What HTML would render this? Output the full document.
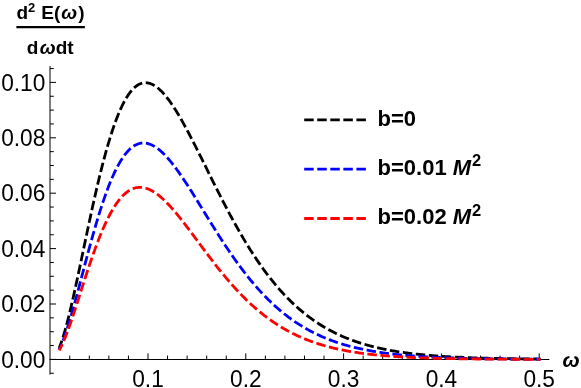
<!DOCTYPE html>
<html><head><meta charset="utf-8"><title>plot</title>
<style>
html,body{margin:0;padding:0;background:#fff;}
body{width:581px;height:388px;overflow:hidden;position:relative;font-family:"Liberation Sans",sans-serif;}
svg{position:absolute;left:0;top:0;will-change:transform;}
text{font-family:"Liberation Sans",sans-serif;}
</style></head><body>
<svg width="581" height="388" viewBox="0 0 581 388">
<g stroke="#000000" stroke-width="1" fill="none">
<line x1="50.00" y1="66.10" x2="50.00" y2="374.60"/>
<line x1="49.50" y1="359.50" x2="549.30" y2="359.50"/>
<line x1="50.00" y1="373.25" x2="53.80" y2="373.25"/>
<line x1="50.00" y1="359.40" x2="56.00" y2="359.40"/>
<line x1="50.00" y1="345.55" x2="53.80" y2="345.55"/>
<line x1="50.00" y1="331.70" x2="53.80" y2="331.70"/>
<line x1="50.00" y1="317.85" x2="53.80" y2="317.85"/>
<line x1="50.00" y1="304.00" x2="56.00" y2="304.00"/>
<line x1="50.00" y1="290.15" x2="53.80" y2="290.15"/>
<line x1="50.00" y1="276.30" x2="53.80" y2="276.30"/>
<line x1="50.00" y1="262.45" x2="53.80" y2="262.45"/>
<line x1="50.00" y1="248.60" x2="56.00" y2="248.60"/>
<line x1="50.00" y1="234.75" x2="53.80" y2="234.75"/>
<line x1="50.00" y1="220.90" x2="53.80" y2="220.90"/>
<line x1="50.00" y1="207.05" x2="53.80" y2="207.05"/>
<line x1="50.00" y1="193.20" x2="56.00" y2="193.20"/>
<line x1="50.00" y1="179.35" x2="53.80" y2="179.35"/>
<line x1="50.00" y1="165.50" x2="53.80" y2="165.50"/>
<line x1="50.00" y1="151.65" x2="53.80" y2="151.65"/>
<line x1="50.00" y1="137.80" x2="56.00" y2="137.80"/>
<line x1="50.00" y1="123.95" x2="53.80" y2="123.95"/>
<line x1="50.00" y1="110.10" x2="53.80" y2="110.10"/>
<line x1="50.00" y1="96.25" x2="53.80" y2="96.25"/>
<line x1="50.00" y1="82.40" x2="56.00" y2="82.40"/>
<line x1="50.00" y1="68.55" x2="53.80" y2="68.55"/>
<line x1="69.76" y1="359.40" x2="69.76" y2="355.60"/>
<line x1="89.32" y1="359.40" x2="89.32" y2="355.60"/>
<line x1="108.88" y1="359.40" x2="108.88" y2="355.60"/>
<line x1="128.44" y1="359.40" x2="128.44" y2="355.60"/>
<line x1="148.00" y1="359.40" x2="148.00" y2="353.40"/>
<line x1="167.56" y1="359.40" x2="167.56" y2="355.60"/>
<line x1="187.12" y1="359.40" x2="187.12" y2="355.60"/>
<line x1="206.68" y1="359.40" x2="206.68" y2="355.60"/>
<line x1="226.24" y1="359.40" x2="226.24" y2="355.60"/>
<line x1="245.80" y1="359.40" x2="245.80" y2="353.40"/>
<line x1="265.36" y1="359.40" x2="265.36" y2="355.60"/>
<line x1="284.92" y1="359.40" x2="284.92" y2="355.60"/>
<line x1="304.48" y1="359.40" x2="304.48" y2="355.60"/>
<line x1="324.04" y1="359.40" x2="324.04" y2="355.60"/>
<line x1="343.60" y1="359.40" x2="343.60" y2="353.40"/>
<line x1="363.16" y1="359.40" x2="363.16" y2="355.60"/>
<line x1="382.72" y1="359.40" x2="382.72" y2="355.60"/>
<line x1="402.28" y1="359.40" x2="402.28" y2="355.60"/>
<line x1="421.84" y1="359.40" x2="421.84" y2="355.60"/>
<line x1="441.40" y1="359.40" x2="441.40" y2="353.40"/>
<line x1="460.96" y1="359.40" x2="460.96" y2="355.60"/>
<line x1="480.52" y1="359.40" x2="480.52" y2="355.60"/>
<line x1="500.08" y1="359.40" x2="500.08" y2="355.60"/>
<line x1="519.64" y1="359.40" x2="519.64" y2="355.60"/>
<line x1="539.20" y1="359.40" x2="539.20" y2="353.40"/>
</g>
<path d="M59.20 347.94 L60.40 344.87 L61.60 341.50 L62.81 337.85 L64.01 333.94 L65.21 329.79 L66.42 325.42 L67.62 320.85 L68.83 316.10 L70.03 311.18 L71.23 306.10 L72.44 300.90 L73.64 295.58 L74.84 290.15 L76.05 284.64 L77.25 279.05 L78.45 273.41 L79.66 267.72 L80.86 261.99 L82.06 256.24 L83.27 250.49 L84.47 244.73 L85.67 238.99 L86.88 233.27 L88.08 227.58 L89.28 221.93 L90.49 216.33 L91.69 210.79 L92.89 205.31 L94.10 199.90 L95.30 194.58 L96.50 189.34 L97.71 184.19 L98.91 179.14 L100.11 174.19 L101.32 169.35 L102.52 164.62 L103.72 160.01 L104.93 155.52 L106.13 151.14 L107.33 146.90 L108.54 142.78 L109.74 138.80 L110.95 134.95 L112.15 131.23 L113.35 127.66 L114.56 124.22 L115.76 120.91 L116.96 117.75 L118.17 114.73 L119.37 111.85 L120.57 109.12 L121.78 106.52 L122.98 104.06 L124.18 101.75 L125.39 99.57 L126.59 97.54 L127.79 95.64 L129.00 93.88 L130.20 92.25 L131.40 90.76 L132.61 89.40 L133.81 88.18 L135.01 87.08 L136.22 86.11 L137.42 85.27 L138.62 84.55 L139.83 83.95 L141.03 83.48 L142.23 83.12 L143.44 82.87 L144.64 82.74 L145.84 82.72 L147.05 82.80 L148.25 83.00 L149.45 83.29 L150.66 83.69 L151.86 84.18 L153.07 84.77 L154.27 85.45 L155.47 86.22 L156.68 87.08 L157.88 88.02 L159.08 89.05 L160.29 90.16 L161.49 91.34 L162.69 92.59 L163.90 93.92 L165.10 95.32 L166.30 96.78 L167.51 98.31 L168.71 99.90 L169.91 101.55 L171.12 103.26 L172.32 105.01 L173.52 106.83 L174.73 108.69 L175.93 110.59 L177.13 112.54 L178.34 114.54 L179.54 116.57 L180.74 118.64 L181.95 120.75 L183.15 122.89 L184.35 125.07 L185.56 127.27 L186.76 129.50 L187.96 131.75 L189.17 134.03 L190.37 136.33 L191.57 138.65 L192.78 140.99 L193.98 143.35 L195.19 145.72 L196.39 148.10 L197.59 150.49 L198.80 152.90 L200.00 155.31 L201.20 157.73 L202.41 160.16 L203.61 162.58 L204.81 165.02 L206.02 167.45 L207.22 169.88 L208.42 172.32 L209.63 174.75 L210.83 177.17 L212.03 179.60 L213.24 182.01 L214.44 184.43 L215.64 186.83 L216.85 189.22 L218.05 191.61 L219.25 193.99 L220.46 196.35 L221.66 198.70 L222.86 201.04 L224.07 203.37 L225.27 205.69 L226.47 207.98 L227.68 210.27 L228.88 212.54 L230.08 214.79 L231.29 217.02 L232.49 219.24 L233.69 221.44 L234.90 223.62 L236.10 225.78 L237.31 227.92 L238.51 230.05 L239.71 232.15 L240.92 234.24 L242.12 236.30 L243.32 238.34 L244.53 240.36 L245.73 242.36 L246.93 244.34 L248.14 246.30 L249.34 248.23 L250.54 250.14 L251.75 252.04 L252.95 253.90 L254.15 255.75 L255.36 257.57 L256.56 259.38 L257.76 261.15 L258.97 262.91 L260.17 264.64 L261.37 266.36 L262.58 268.04 L263.78 269.71 L264.98 271.35 L266.19 272.97 L267.39 274.57 L268.59 276.15 L269.80 277.70 L271.00 279.23 L272.20 280.74 L273.41 282.23 L274.61 283.69 L275.81 285.14 L277.02 286.56 L278.22 287.96 L279.43 289.34 L280.63 290.70 L281.83 292.03 L283.04 293.35 L284.24 294.64 L285.44 295.92 L286.65 297.17 L287.85 298.40 L289.05 299.61 L290.26 300.81 L291.46 301.98 L292.66 303.13 L293.87 304.27 L295.07 305.38 L296.27 306.48 L297.48 307.56 L298.68 308.62 L299.88 309.66 L301.09 310.68 L302.29 311.68 L303.49 312.67 L304.70 313.64 L305.90 314.59 L307.10 315.52 L308.31 316.44 L309.51 317.34 L310.71 318.23 L311.92 319.10 L313.12 319.95 L314.32 320.79 L315.53 321.61 L316.73 322.41 L317.93 323.20 L319.14 323.98 L320.34 324.74 L321.55 325.49 L322.75 326.22 L323.95 326.94 L325.16 327.64 L326.36 328.33 L327.56 329.01 L328.77 329.68 L329.97 330.33 L331.17 330.97 L332.38 331.59 L333.58 332.21 L334.78 332.81 L335.99 333.40 L337.19 333.97 L338.39 334.54 L339.60 335.09 L340.80 335.64 L342.00 336.17 L343.21 336.69 L344.41 337.20 L345.61 337.70 L346.82 338.19 L348.02 338.67 L349.22 339.14 L350.43 339.60 L351.63 340.05 L352.83 340.49 L354.04 340.93 L355.24 341.35 L356.44 341.76 L357.65 342.17 L358.85 342.56 L360.05 342.95 L361.26 343.33 L362.46 343.70 L363.67 344.07 L364.87 344.42 L366.07 344.77 L367.28 345.11 L368.48 345.45 L369.68 345.77 L370.89 346.09 L372.09 346.40 L373.29 346.71 L374.50 347.01 L375.70 347.30 L376.90 347.59 L378.11 347.86 L379.31 348.14 L380.51 348.40 L381.72 348.67 L382.92 348.92 L384.12 349.17 L385.33 349.41 L386.53 349.65 L387.73 349.89 L388.94 350.11 L390.14 350.34 L391.34 350.55 L392.55 350.77 L393.75 350.98 L394.95 351.18 L396.16 351.38 L397.36 351.57 L398.56 351.76 L399.77 351.95 L400.97 352.13 L402.17 352.30 L403.38 352.48 L404.58 352.65 L405.79 352.81 L406.99 352.97 L408.19 353.13 L409.40 353.28 L410.60 353.43 L411.80 353.58 L413.01 353.72 L414.21 353.86 L415.41 354.00 L416.62 354.13 L417.82 354.26 L419.02 354.39 L420.23 354.51 L421.43 354.63 L422.63 354.75 L423.84 354.87 L425.04 354.98 L426.24 355.09 L427.45 355.20 L428.65 355.30 L429.85 355.41 L431.06 355.51 L432.26 355.60 L433.46 355.70 L434.67 355.79 L435.87 355.88 L437.07 355.97 L438.28 356.06 L439.48 356.14 L440.68 356.22 L441.89 356.30 L443.09 356.38 L444.29 356.46 L445.50 356.53 L446.70 356.61 L447.91 356.68 L449.11 356.75 L450.31 356.81 L451.52 356.88 L452.72 356.94 L453.92 357.01 L455.13 357.07 L456.33 357.13 L457.53 357.18 L458.74 357.24 L459.94 357.30 L461.14 357.35 L462.35 357.40 L463.55 357.45 L464.75 357.50 L465.96 357.55 L467.16 357.60 L468.36 357.65 L469.57 357.69 L470.77 357.74 L471.97 357.78 L473.18 357.82 L474.38 357.86 L475.58 357.90 L476.79 357.94 L477.99 357.98 L479.19 358.02 L480.40 358.05 L481.60 358.09 L482.80 358.12 L484.01 358.15 L485.21 358.19 L486.41 358.22 L487.62 358.25 L488.82 358.28 L490.03 358.31 L491.23 358.34 L492.43 358.36 L493.64 358.39 L494.84 358.42 L496.04 358.44 L497.25 358.47 L498.45 358.49 L499.65 358.52 L500.86 358.54 L502.06 358.56 L503.26 358.58 L504.47 358.61 L505.67 358.63 L506.87 358.65 L508.08 358.67 L509.28 358.69 L510.48 358.71 L511.69 358.72 L512.89 358.74 L514.09 358.76 L515.30 358.78 L516.50 358.79 L517.70 358.81 L518.91 358.82 L520.11 358.84 L521.31 358.86 L522.52 358.87 L523.72 358.88 L524.92 358.90 L526.13 358.91 L527.33 358.92 L528.53 358.94 L529.74 358.95 L530.94 358.96 L532.15 358.97 L533.35 358.98 L534.55 359.00 L535.76 359.01 L536.96 359.02 L538.16 359.03 L539.37 359.04 L540.57 359.05" fill="none" stroke="#000000" stroke-width="2.8" stroke-dasharray="9.5 3.55" stroke-dashoffset="1.8" stroke-linejoin="round"/>
<path d="M59.20 349.59 L60.40 347.03 L61.60 344.24 L62.81 341.22 L64.01 338.00 L65.21 334.60 L66.42 331.03 L67.62 327.30 L68.83 323.44 L70.03 319.44 L71.23 315.34 L72.44 311.14 L73.64 306.85 L74.84 302.48 L76.05 298.06 L77.25 293.58 L78.45 289.07 L79.66 284.52 L80.86 279.96 L82.06 275.38 L83.27 270.81 L84.47 266.24 L85.67 261.69 L86.88 257.17 L88.08 252.67 L89.28 248.21 L90.49 243.80 L91.69 239.45 L92.89 235.14 L94.10 230.91 L95.30 226.74 L96.50 222.64 L97.71 218.62 L98.91 214.69 L100.11 210.84 L101.32 207.08 L102.52 203.41 L103.72 199.84 L104.93 196.37 L106.13 193.00 L107.33 189.74 L108.54 186.58 L109.74 183.53 L110.95 180.59 L112.15 177.75 L113.35 175.03 L114.56 172.43 L115.76 169.93 L116.96 167.55 L118.17 165.29 L119.37 163.13 L120.57 161.09 L121.78 159.17 L122.98 157.36 L124.18 155.66 L125.39 154.07 L126.59 152.60 L127.79 151.24 L129.00 149.98 L130.20 148.84 L131.40 147.80 L132.61 146.87 L133.81 146.04 L135.01 145.32 L136.22 144.70 L137.42 144.17 L138.62 143.75 L139.83 143.42 L141.03 143.19 L142.23 143.05 L143.44 143.00 L144.64 143.04 L145.84 143.17 L147.05 143.38 L148.25 143.67 L149.45 144.04 L150.66 144.50 L151.86 145.03 L153.07 145.63 L154.27 146.30 L155.47 147.05 L156.68 147.86 L157.88 148.74 L159.08 149.68 L160.29 150.69 L161.49 151.75 L162.69 152.87 L163.90 154.04 L165.10 155.27 L166.30 156.54 L167.51 157.87 L168.71 159.24 L169.91 160.66 L171.12 162.12 L172.32 163.62 L173.52 165.15 L174.73 166.73 L175.93 168.34 L177.13 169.98 L178.34 171.65 L179.54 173.35 L180.74 175.08 L181.95 176.84 L183.15 178.62 L184.35 180.42 L185.56 182.24 L186.76 184.08 L187.96 185.94 L189.17 187.81 L190.37 189.70 L191.57 191.60 L192.78 193.51 L193.98 195.44 L195.19 197.37 L196.39 199.31 L197.59 201.26 L198.80 203.21 L200.00 205.16 L201.20 207.12 L202.41 209.08 L203.61 211.04 L204.81 213.00 L206.02 214.96 L207.22 216.92 L208.42 218.87 L209.63 220.82 L210.83 222.76 L212.03 224.70 L213.24 226.63 L214.44 228.55 L215.64 230.47 L216.85 232.37 L218.05 234.27 L219.25 236.15 L220.46 238.03 L221.66 239.89 L222.86 241.74 L224.07 243.58 L225.27 245.41 L226.47 247.22 L227.68 249.01 L228.88 250.80 L230.08 252.57 L231.29 254.32 L232.49 256.06 L233.69 257.78 L234.90 259.48 L236.10 261.17 L237.31 262.84 L238.51 264.50 L239.71 266.13 L240.92 267.75 L242.12 269.36 L243.32 270.94 L244.53 272.51 L245.73 274.05 L246.93 275.58 L248.14 277.09 L249.34 278.59 L250.54 280.06 L251.75 281.51 L252.95 282.95 L254.15 284.37 L255.36 285.77 L256.56 287.15 L257.76 288.51 L258.97 289.85 L260.17 291.17 L261.37 292.48 L262.58 293.76 L263.78 295.03 L264.98 296.28 L266.19 297.51 L267.39 298.72 L268.59 299.92 L269.80 301.09 L271.00 302.25 L272.20 303.39 L273.41 304.51 L274.61 305.61 L275.81 306.70 L277.02 307.77 L278.22 308.82 L279.43 309.85 L280.63 310.86 L281.83 311.86 L283.04 312.85 L284.24 313.81 L285.44 314.76 L286.65 315.69 L287.85 316.61 L289.05 317.51 L290.26 318.39 L291.46 319.26 L292.66 320.12 L293.87 320.95 L295.07 321.78 L296.27 322.59 L297.48 323.38 L298.68 324.16 L299.88 324.92 L301.09 325.67 L302.29 326.41 L303.49 327.13 L304.70 327.84 L305.90 328.53 L307.10 329.21 L308.31 329.88 L309.51 330.54 L310.71 331.18 L311.92 331.81 L313.12 332.43 L314.32 333.03 L315.53 333.63 L316.73 334.21 L317.93 334.78 L319.14 335.34 L320.34 335.88 L321.55 336.42 L322.75 336.94 L323.95 337.46 L325.16 337.96 L326.36 338.46 L327.56 338.94 L328.77 339.41 L329.97 339.88 L331.17 340.33 L332.38 340.78 L333.58 341.21 L334.78 341.64 L335.99 342.05 L337.19 342.46 L338.39 342.86 L339.60 343.25 L340.80 343.63 L342.00 344.01 L343.21 344.37 L344.41 344.73 L345.61 345.08 L346.82 345.42 L348.02 345.76 L349.22 346.09 L350.43 346.41 L351.63 346.72 L352.83 347.02 L354.04 347.32 L355.24 347.62 L356.44 347.90 L357.65 348.18 L358.85 348.46 L360.05 348.72 L361.26 348.98 L362.46 349.24 L363.67 349.49 L364.87 349.73 L366.07 349.97 L367.28 350.20 L368.48 350.43 L369.68 350.65 L370.89 350.87 L372.09 351.08 L373.29 351.29 L374.50 351.49 L375.70 351.69 L376.90 351.88 L378.11 352.07 L379.31 352.25 L380.51 352.43 L381.72 352.61 L382.92 352.78 L384.12 352.95 L385.33 353.11 L386.53 353.27 L387.73 353.42 L388.94 353.58 L390.14 353.72 L391.34 353.87 L392.55 354.01 L393.75 354.15 L394.95 354.28 L396.16 354.41 L397.36 354.54 L398.56 354.67 L399.77 354.79 L400.97 354.91 L402.17 355.02 L403.38 355.13 L404.58 355.24 L405.79 355.35 L406.99 355.46 L408.19 355.56 L409.40 355.66 L410.60 355.76 L411.80 355.85 L413.01 355.94 L414.21 356.03 L415.41 356.12 L416.62 356.21 L417.82 356.29 L419.02 356.37 L420.23 356.45 L421.43 356.53 L422.63 356.61 L423.84 356.68 L425.04 356.75 L426.24 356.82 L427.45 356.89 L428.65 356.96 L429.85 357.02 L431.06 357.08 L432.26 357.15 L433.46 357.21 L434.67 357.26 L435.87 357.32 L437.07 357.38 L438.28 357.43 L439.48 357.48 L440.68 357.53 L441.89 357.58 L443.09 357.63 L444.29 357.68 L445.50 357.73 L446.70 357.77 L447.91 357.82 L449.11 357.86 L450.31 357.90 L451.52 357.94 L452.72 357.98 L453.92 358.02 L455.13 358.06 L456.33 358.09 L457.53 358.13 L458.74 358.16 L459.94 358.20 L461.14 358.23 L462.35 358.26 L463.55 358.29 L464.75 358.32 L465.96 358.35 L467.16 358.38 L468.36 358.41 L469.57 358.44 L470.77 358.46 L471.97 358.49 L473.18 358.51 L474.38 358.54 L475.58 358.56 L476.79 358.58 L477.99 358.61 L479.19 358.63 L480.40 358.65 L481.60 358.67 L482.80 358.69 L484.01 358.71 L485.21 358.73 L486.41 358.75 L487.62 358.77 L488.82 358.78 L490.03 358.80 L491.23 358.82 L492.43 358.83 L493.64 358.85 L494.84 358.86 L496.04 358.88 L497.25 358.89 L498.45 358.91 L499.65 358.92 L500.86 358.94 L502.06 358.95 L503.26 358.96 L504.47 358.97 L505.67 358.99 L506.87 359.00 L508.08 359.01 L509.28 359.02 L510.48 359.03 L511.69 359.04 L512.89 359.05 L514.09 359.06 L515.30 359.07 L516.50 359.08 L517.70 359.09 L518.91 359.10 L520.11 359.11 L521.31 359.11 L522.52 359.12 L523.72 359.13 L524.92 359.14 L526.13 359.15 L527.33 359.15 L528.53 359.16 L529.74 359.17 L530.94 359.17 L532.15 359.18 L533.35 359.19 L534.55 359.19 L535.76 359.20 L536.96 359.20 L538.16 359.21 L539.37 359.21 L540.57 359.22" fill="none" stroke="#0000ff" stroke-width="2.8" stroke-dasharray="9.5 3.55" stroke-dashoffset="3.3" stroke-linejoin="round"/>
<path d="M59.20 350.44 L60.40 348.18 L61.60 345.72 L62.81 343.09 L64.01 340.30 L65.21 337.36 L66.42 334.29 L67.62 331.10 L68.83 327.80 L70.03 324.41 L71.23 320.94 L72.44 317.39 L73.64 313.79 L74.84 310.13 L76.05 306.44 L77.25 302.71 L78.45 298.96 L79.66 295.20 L80.86 291.44 L82.06 287.68 L83.27 283.93 L84.47 280.19 L85.67 276.48 L86.88 272.80 L88.08 269.16 L89.28 265.56 L90.49 262.00 L91.69 258.50 L92.89 255.06 L94.10 251.67 L95.30 248.36 L96.50 245.11 L97.71 241.93 L98.91 238.83 L100.11 235.81 L101.32 232.87 L102.52 230.01 L103.72 227.24 L104.93 224.56 L106.13 221.96 L107.33 219.46 L108.54 217.05 L109.74 214.74 L110.95 212.51 L112.15 210.39 L113.35 208.36 L114.56 206.43 L115.76 204.59 L116.96 202.85 L118.17 201.21 L119.37 199.66 L120.57 198.21 L121.78 196.85 L122.98 195.59 L124.18 194.42 L125.39 193.35 L126.59 192.37 L127.79 191.48 L129.00 190.69 L130.20 189.98 L131.40 189.36 L132.61 188.82 L133.81 188.37 L135.01 188.01 L136.22 187.72 L137.42 187.52 L138.62 187.40 L139.83 187.35 L141.03 187.38 L142.23 187.49 L143.44 187.67 L144.64 187.91 L145.84 188.23 L147.05 188.61 L148.25 189.06 L149.45 189.57 L150.66 190.14 L151.86 190.77 L153.07 191.45 L154.27 192.20 L155.47 192.99 L156.68 193.84 L157.88 194.74 L159.08 195.68 L160.29 196.68 L161.49 197.71 L162.69 198.79 L163.90 199.91 L165.10 201.07 L166.30 202.26 L167.51 203.49 L168.71 204.75 L169.91 206.05 L171.12 207.37 L172.32 208.73 L173.52 210.11 L174.73 211.51 L175.93 212.94 L177.13 214.39 L178.34 215.86 L179.54 217.35 L180.74 218.86 L181.95 220.39 L183.15 221.93 L184.35 223.48 L185.56 225.04 L186.76 226.62 L187.96 228.21 L189.17 229.80 L190.37 231.40 L191.57 233.01 L192.78 234.62 L193.98 236.24 L195.19 237.86 L196.39 239.48 L197.59 241.10 L198.80 242.73 L200.00 244.35 L201.20 245.97 L202.41 247.59 L203.61 249.20 L204.81 250.81 L206.02 252.42 L207.22 254.01 L208.42 255.61 L209.63 257.19 L210.83 258.77 L212.03 260.34 L213.24 261.90 L214.44 263.45 L215.64 264.99 L216.85 266.52 L218.05 268.04 L219.25 269.55 L220.46 271.05 L221.66 272.53 L222.86 274.01 L224.07 275.47 L225.27 276.91 L226.47 278.34 L227.68 279.76 L228.88 281.16 L230.08 282.55 L231.29 283.93 L232.49 285.29 L233.69 286.63 L234.90 287.96 L236.10 289.28 L237.31 290.58 L238.51 291.86 L239.71 293.12 L240.92 294.38 L242.12 295.61 L243.32 296.83 L244.53 298.03 L245.73 299.22 L246.93 300.39 L248.14 301.54 L249.34 302.68 L250.54 303.80 L251.75 304.91 L252.95 306.00 L254.15 307.07 L255.36 308.13 L256.56 309.17 L257.76 310.19 L258.97 311.20 L260.17 312.19 L261.37 313.17 L262.58 314.13 L263.78 315.08 L264.98 316.01 L266.19 316.92 L267.39 317.82 L268.59 318.70 L269.80 319.57 L271.00 320.43 L272.20 321.27 L273.41 322.09 L274.61 322.90 L275.81 323.70 L277.02 324.48 L278.22 325.24 L279.43 326.00 L280.63 326.74 L281.83 327.46 L283.04 328.17 L284.24 328.87 L285.44 329.56 L286.65 330.23 L287.85 330.89 L289.05 331.54 L290.26 332.17 L291.46 332.79 L292.66 333.40 L293.87 334.00 L295.07 334.59 L296.27 335.16 L297.48 335.72 L298.68 336.27 L299.88 336.81 L301.09 337.34 L302.29 337.86 L303.49 338.37 L304.70 338.87 L305.90 339.35 L307.10 339.83 L308.31 340.30 L309.51 340.75 L310.71 341.20 L311.92 341.64 L313.12 342.06 L314.32 342.48 L315.53 342.89 L316.73 343.29 L317.93 343.69 L319.14 344.07 L320.34 344.44 L321.55 344.81 L322.75 345.17 L323.95 345.52 L325.16 345.86 L326.36 346.20 L327.56 346.53 L328.77 346.85 L329.97 347.16 L331.17 347.47 L332.38 347.77 L333.58 348.06 L334.78 348.34 L335.99 348.62 L337.19 348.89 L338.39 349.16 L339.60 349.42 L340.80 349.67 L342.00 349.92 L343.21 350.16 L344.41 350.40 L345.61 350.63 L346.82 350.86 L348.02 351.08 L349.22 351.29 L350.43 351.50 L351.63 351.71 L352.83 351.91 L354.04 352.10 L355.24 352.29 L356.44 352.48 L357.65 352.66 L358.85 352.83 L360.05 353.01 L361.26 353.17 L362.46 353.34 L363.67 353.50 L364.87 353.65 L366.07 353.81 L367.28 353.95 L368.48 354.10 L369.68 354.24 L370.89 354.38 L372.09 354.51 L373.29 354.64 L374.50 354.77 L375.70 354.89 L376.90 355.01 L378.11 355.13 L379.31 355.25 L380.51 355.36 L381.72 355.47 L382.92 355.57 L384.12 355.68 L385.33 355.78 L386.53 355.88 L387.73 355.97 L388.94 356.07 L390.14 356.16 L391.34 356.25 L392.55 356.33 L393.75 356.42 L394.95 356.50 L396.16 356.58 L397.36 356.66 L398.56 356.73 L399.77 356.81 L400.97 356.88 L402.17 356.95 L403.38 357.02 L404.58 357.08 L405.79 357.15 L406.99 357.21 L408.19 357.27 L409.40 357.33 L410.60 357.39 L411.80 357.44 L413.01 357.50 L414.21 357.55 L415.41 357.60 L416.62 357.65 L417.82 357.70 L419.02 357.75 L420.23 357.80 L421.43 357.84 L422.63 357.89 L423.84 357.93 L425.04 357.97 L426.24 358.01 L427.45 358.05 L428.65 358.09 L429.85 358.13 L431.06 358.16 L432.26 358.20 L433.46 358.23 L434.67 358.27 L435.87 358.30 L437.07 358.33 L438.28 358.36 L439.48 358.39 L440.68 358.42 L441.89 358.45 L443.09 358.48 L444.29 358.50 L445.50 358.53 L446.70 358.55 L447.91 358.58 L449.11 358.60 L450.31 358.62 L451.52 358.65 L452.72 358.67 L453.92 358.69 L455.13 358.71 L456.33 358.73 L457.53 358.75 L458.74 358.77 L459.94 358.79 L461.14 358.81 L462.35 358.82 L463.55 358.84 L464.75 358.86 L465.96 358.87 L467.16 358.89 L468.36 358.90 L469.57 358.92 L470.77 358.93 L471.97 358.95 L473.18 358.96 L474.38 358.97 L475.58 358.98 L476.79 359.00 L477.99 359.01 L479.19 359.02 L480.40 359.03 L481.60 359.04 L482.80 359.05 L484.01 359.06 L485.21 359.07 L486.41 359.08 L487.62 359.09 L488.82 359.10 L490.03 359.11 L491.23 359.12 L492.43 359.13 L493.64 359.14 L494.84 359.14 L496.04 359.15 L497.25 359.16 L498.45 359.17 L499.65 359.17 L500.86 359.18 L502.06 359.19 L503.26 359.19 L504.47 359.20 L505.67 359.21 L506.87 359.21 L508.08 359.22 L509.28 359.22 L510.48 359.23 L511.69 359.23 L512.89 359.24 L514.09 359.24 L515.30 359.25 L516.50 359.25 L517.70 359.26 L518.91 359.26 L520.11 359.27 L521.31 359.27 L522.52 359.27 L523.72 359.28 L524.92 359.28 L526.13 359.28 L527.33 359.29 L528.53 359.29 L529.74 359.29 L530.94 359.30 L532.15 359.30 L533.35 359.30 L534.55 359.31 L535.76 359.31 L536.96 359.31 L538.16 359.32 L539.37 359.32 L540.57 359.32" fill="none" stroke="#ff0000" stroke-width="2.8" stroke-dasharray="9.5 3.55" stroke-dashoffset="2.4" stroke-linejoin="round"/>
<g font-size="22.7" fill="#000">
<text transform="translate(45.3,367.50) scale(1,1.020)" text-anchor="end">0.00</text>
<text transform="translate(45.3,312.10) scale(1,1.020)" text-anchor="end">0.02</text>
<text transform="translate(45.3,256.70) scale(1,1.020)" text-anchor="end">0.04</text>
<text transform="translate(45.3,201.30) scale(1,1.020)" text-anchor="end">0.06</text>
<text transform="translate(45.3,145.90) scale(1,1.020)" text-anchor="end">0.08</text>
<text transform="translate(45.3,90.50) scale(1,1.020)" text-anchor="end">0.10</text>
<text transform="translate(148.00,387.3) scale(1,1.020)" text-anchor="middle">0.1</text>
<text transform="translate(245.80,387.3) scale(1,1.020)" text-anchor="middle">0.2</text>
<text transform="translate(343.60,387.3) scale(1,1.020)" text-anchor="middle">0.3</text>
<text transform="translate(441.40,387.3) scale(1,1.020)" text-anchor="middle">0.4</text>
<text transform="translate(539.20,387.3) scale(1,1.020)" text-anchor="middle">0.5</text>
</g>
<text x="562.5" y="367.2" font-size="20.5" font-weight="bold" font-style="italic">ω</text>
<g font-weight="bold" font-size="19" fill="#000">
<text x="16.5" y="19.0">d<tspan font-size="13" dy="-7.3">2</tspan><tspan dy="7.3" dx="0.6"> E(</tspan><tspan font-style="italic" dx="0.9">ω</tspan><tspan dx="1.2">)</tspan></text>
<text x="26.7" y="53.7">d<tspan font-style="italic" dx="1.5">ω</tspan>dt</text>
</g>
<line x1="16.4" y1="27.1" x2="84.9" y2="27.1" stroke="#000" stroke-width="2.1"/>
<line x1="304.2" y1="119.90" x2="366.0" y2="119.90" stroke="#000000" stroke-width="2.8" stroke-dasharray="9.5 3.55"/>
<text transform="translate(377.6,125.80) scale(1,1.035)" font-size="22" font-weight="bold">b=0</text>
<line x1="304.2" y1="169.20" x2="366.0" y2="169.20" stroke="#0000ff" stroke-width="2.8" stroke-dasharray="9.5 3.55"/>
<text transform="translate(377.6,175.10) scale(1,1.035)" font-size="22" font-weight="bold" xml:space="preserve">b=0.01 <tspan font-style="italic">M</tspan><tspan font-size="16.5" dx="0.8" dy="-8.4">2</tspan></text>
<line x1="304.2" y1="218.50" x2="366.0" y2="218.50" stroke="#ff0000" stroke-width="2.8" stroke-dasharray="9.5 3.55"/>
<text transform="translate(377.6,224.40) scale(1,1.035)" font-size="22" font-weight="bold" xml:space="preserve">b=0.02 <tspan font-style="italic">M</tspan><tspan font-size="16.5" dx="0.8" dy="-8.4">2</tspan></text>
</svg>
</body></html>
